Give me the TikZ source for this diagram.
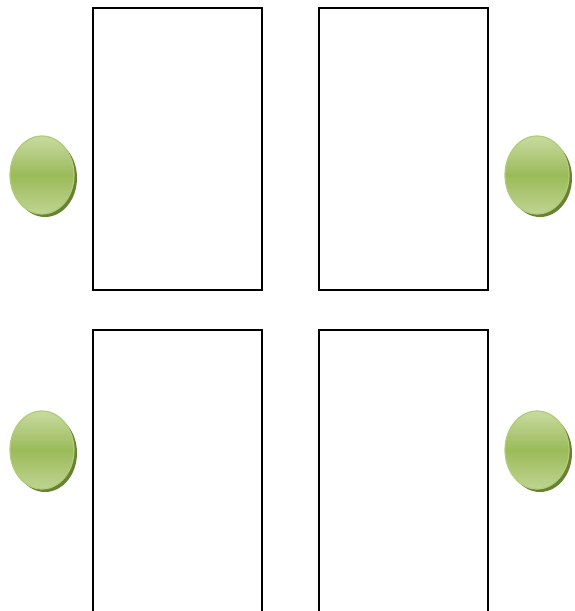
\documentclass[tikz,border=0pt]{standalone}
\usetikzlibrary{shapes.geometric}
\definecolor{olivegreen}{RGB}{155, 187, 89}
\definecolor{palegreen}{RGB}{200, 218, 160}
\definecolor{rimgreen}{RGB}{176, 204, 120}
\definecolor{shadegreen}{RGB}{104, 130, 52}

\tikzset{
  knob/.style={ellipse, minimum width=64, minimum height=78, draw=rimgreen, line width=1.2pt,
    top color=palegreen, bottom color=palegreen!80!olivegreen, middle color=olivegreen},
  knobshadow/.style={ellipse, minimum width=64, minimum height=78, fill=shadegreen, draw=none},
  panel/.style={draw=black, line width=1.4pt}
}

\begin{document}
\begin{tikzpicture}[x=1pt, y=-1pt]
    \useasboundingbox (0,0) rectangle (574,611);

    % Upper panels
    \draw[panel] (93,8) rectangle (262,290);
    \draw[panel] (319,8) rectangle (488,290);

    % Lower panels (run off the bottom edge)
    \draw[panel] (93,612) -- (93,330) -- (262,330) -- (262,612);
    \draw[panel] (319,612) -- (319,330) -- (488,330) -- (488,612);

    % Knobs, shadow first
    \foreach \kx/\ky/\kname in {42/175/upleft, 537/175/upright, 42/450/lowleft, 537/450/lowright} {
      \node[knobshadow] at (\kx+3,\ky+3) {};
      \node[knob] (\kname) at (\kx,\ky) {};
    }
\end{tikzpicture}
\end{document}
